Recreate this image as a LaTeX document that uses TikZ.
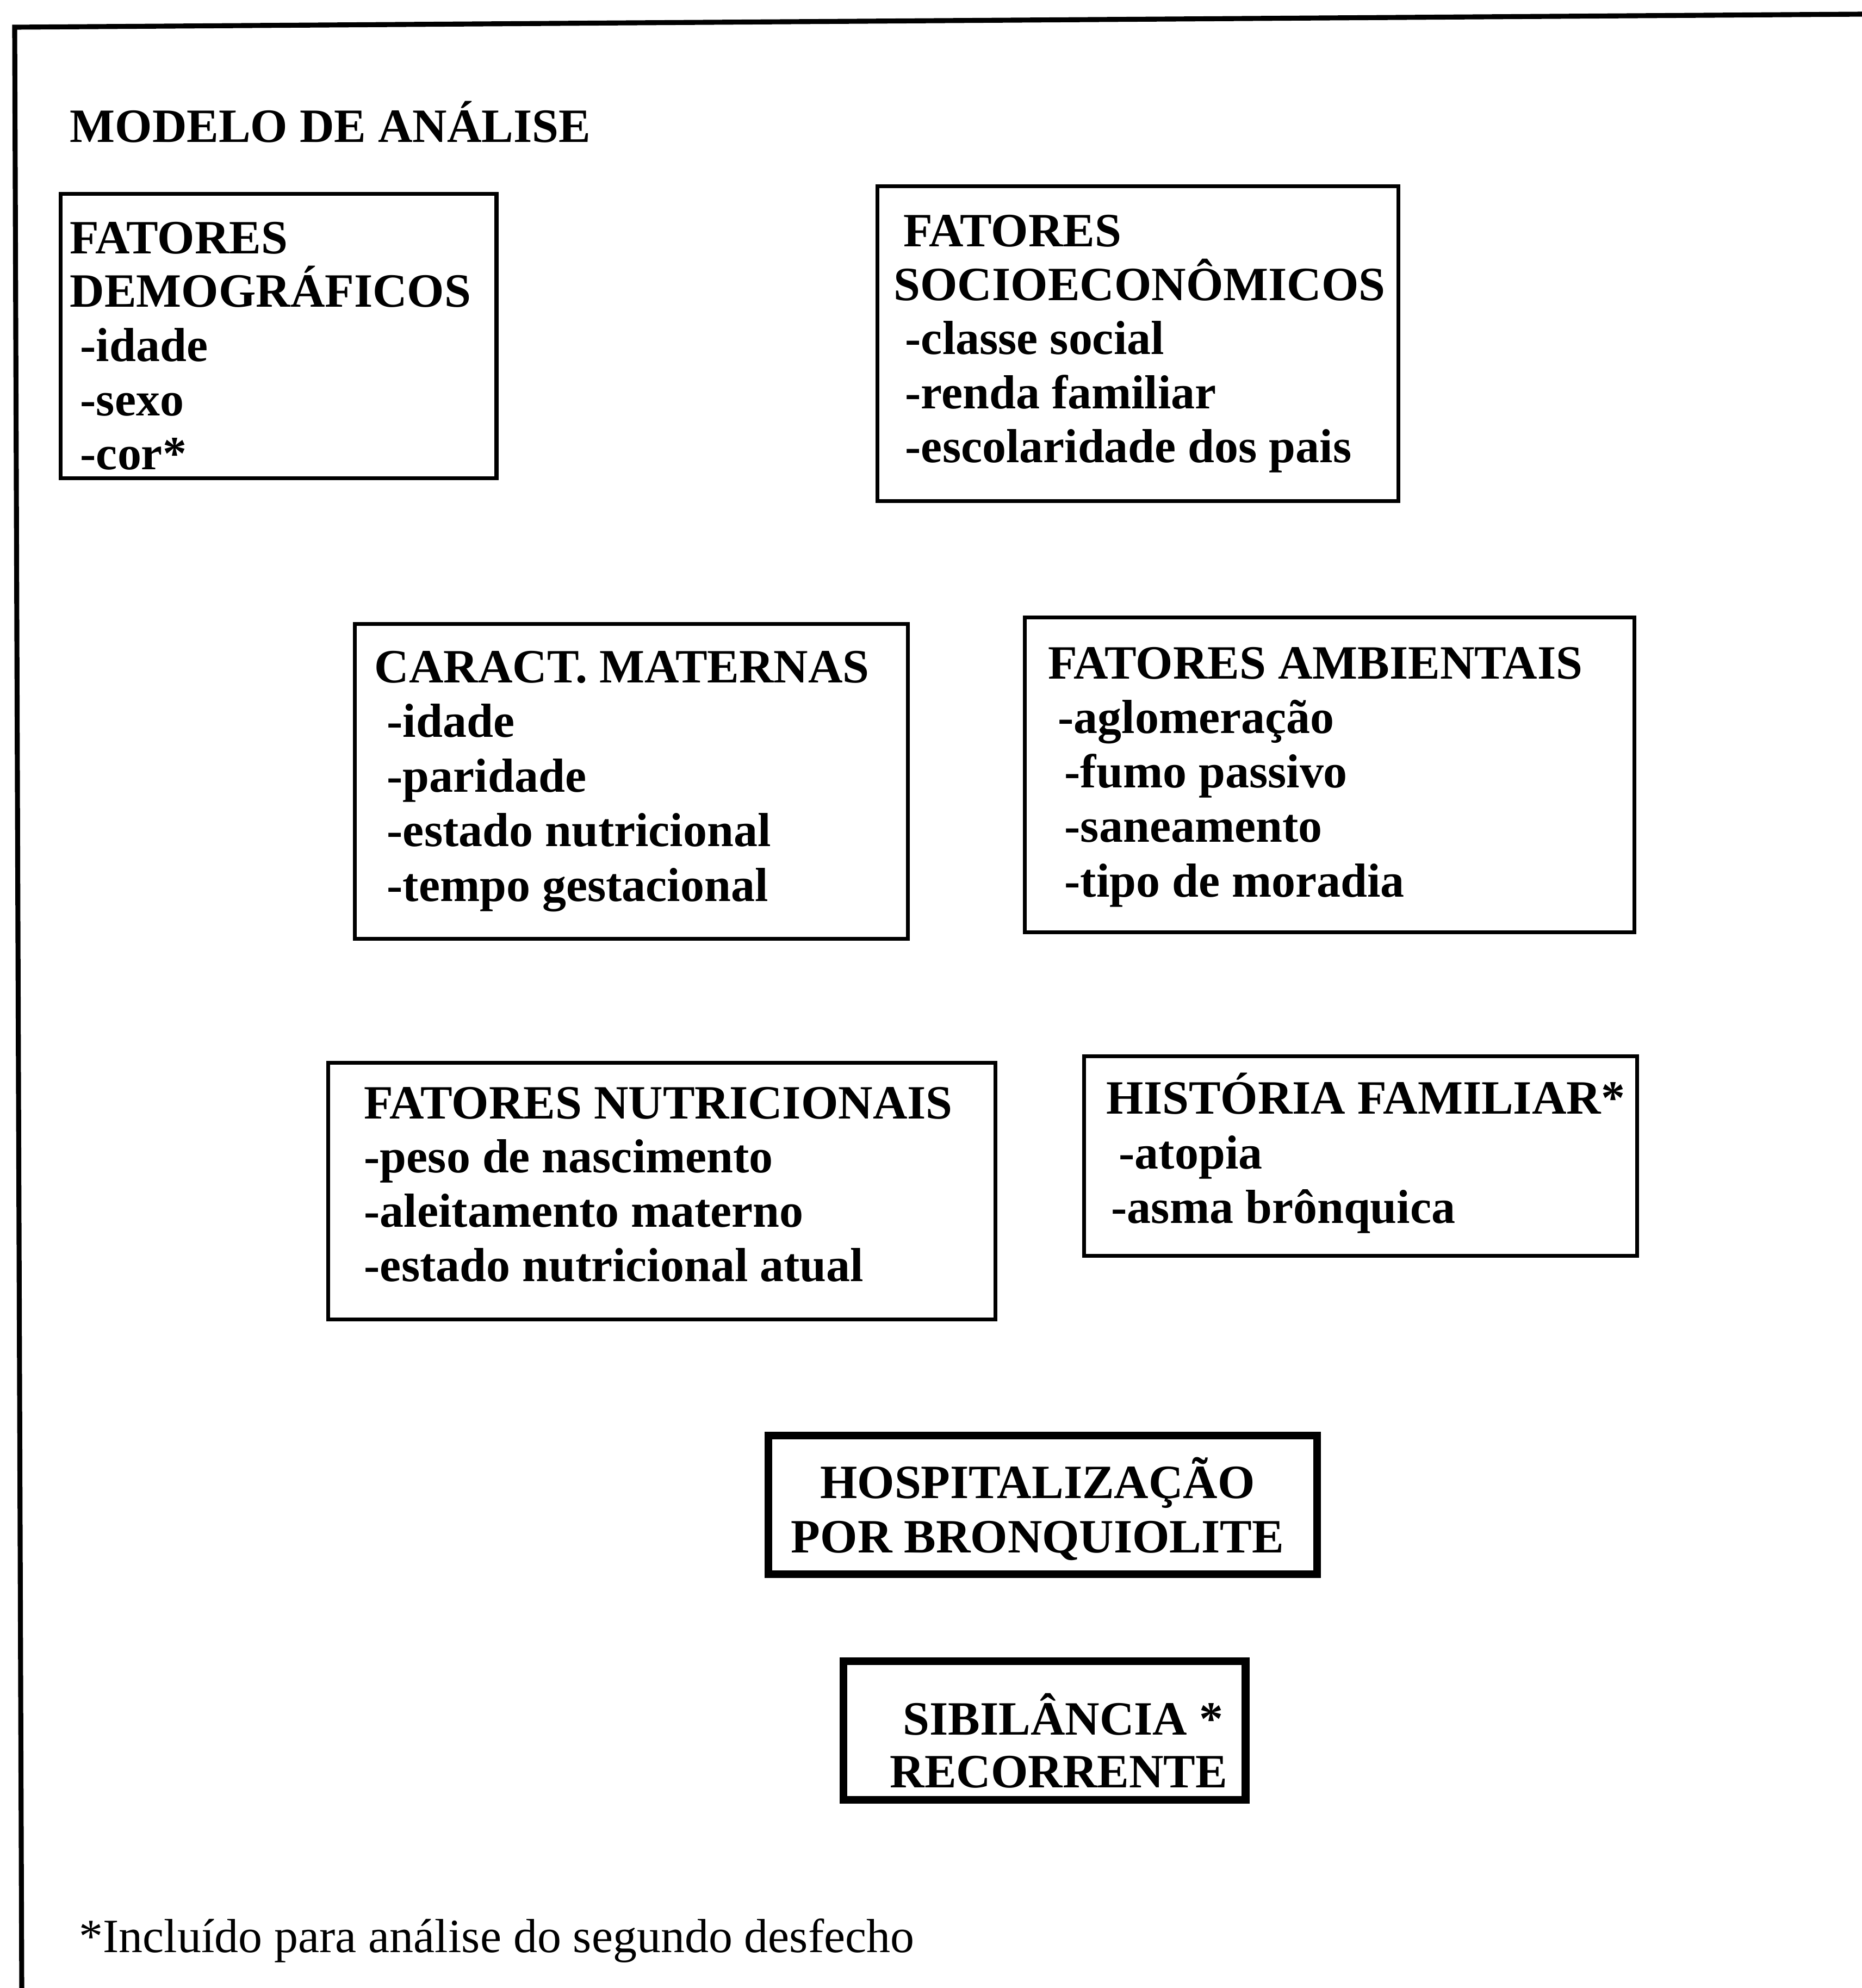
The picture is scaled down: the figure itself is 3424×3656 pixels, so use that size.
\documentclass[tikz,border=0pt]{standalone}
\usepackage{fontspec}
\setmainfont{Liberation Serif}
\usetikzlibrary{positioning}
\tikzset{
  factorbox/.style={draw, line width=2pt, inner sep=0pt, anchor=north west},
  outcomebox/.style={draw, line width=4pt, inner sep=0pt, anchor=north west},
  boxline/.style={anchor=base west, inner sep=0pt, font=\fontsize{25}{28.45}\selectfont\bfseries},
  plainline/.style={anchor=base west, inner sep=0pt, font=\fontsize{25}{28.45}\selectfont},
}
\begin{document}
\begin{tikzpicture}[x=0.01cm, y=-0.01cm]
    \useasboundingbox (0,0) rectangle (3424,3656);
    \draw[line width=2.6pt] (40,3656) -- (27,50) -- (3424,26);

    \node[boxline] (title) at (128,261) {MODELO DE ANÁLISE};

    \node[factorbox, minimum width=8.01cm, minimum height=5.23cm] (demog) at (108,353) {};
    \node[boxline] (demog-h1) at (128,466) {FATORES};
    \node[boxline] (demog-h2) at (128,564) {DEMOGRÁFICOS};
    \foreach \t [count=\i] in {-idade,-sexo,-cor*}
        \node[boxline] (demog-\i) at (147,{565+\i*99.5}) {\t};

    \node[factorbox, minimum width=9.57cm, minimum height=5.79cm] (socio) at (1610,339) {};
    \node[boxline] (socio-h1) at (1661,453) {FATORES};
    \node[boxline] (socio-h2) at (1643,552) {SOCIOECONÔMICOS};
    \foreach \t [count=\i] in {-classe social,-renda familiar,-escolaridade dos pais}
        \node[boxline] (socio-\i) at (1664,{552+\i*99.5}) {\t};

    \node[factorbox, minimum width=10.16cm, minimum height=5.79cm] (matern) at (649,1144) {};
    \node[boxline] (matern-h) at (688,1255) {CARACT. MATERNAS};
    \foreach \t [count=\i] in {-idade,-paridade,-estado nutricional,-tempo gestacional}
        \node[boxline] (matern-\i) at (711,{1255+\i*100.5}) {\t};

    \node[factorbox, minimum width=11.20cm, minimum height=5.79cm] (ambient) at (1881,1132) {};
    \node[boxline] (ambient-h) at (1927,1248) {FATORES AMBIENTAIS};
    \node[boxline] (ambient-1) at (1945,1348) {-aglomeração};
    \foreach \t [count=\i from 2] in {-fumo passivo,-saneamento,-tipo de moradia}
        \node[boxline] (ambient-\i) at (1957,{1248+\i*100.3}) {\t};

    \node[factorbox, minimum width=12.26cm, minimum height=4.72cm] (nutri) at (600,1951) {};
    \node[boxline] (nutri-h) at (669,2057) {FATORES NUTRICIONAIS};
    \foreach \t [count=\i] in {-peso de nascimento,-aleitamento materno,-estado nutricional atual}
        \node[boxline] (nutri-\i) at (669,{2057+\i*99.7}) {\t};

    \node[factorbox, minimum width=10.16cm, minimum height=3.67cm] (famil) at (1990,1939) {};
    \node[boxline] (famil-h) at (2034,2048) {HISTÓRIA FAMILIAR*};
    \node[boxline] (famil-1) at (2057,2149) {-atopia};
    \node[boxline] (famil-2) at (2043,2249) {-asma brônquica};

    \node[outcomebox, minimum width=10.08cm, minimum height=2.55cm] (hosp) at (1406,2633) {};
    \node[boxline, anchor=base] (hosp-1) at (1908,2755) {HOSPITALIZAÇÃO};
    \node[boxline, anchor=base] (hosp-2) at (1908,2855) {POR BRONQUIOLITE};

    \node[outcomebox, minimum width=7.39cm, minimum height=2.55cm] (sibil) at (1544,3048) {};
    \node[boxline] (sibil-1) at (1660,3190) {SIBILÂNCIA *};
    \node[boxline] (sibil-2) at (1636,3287) {RECORRENTE};

    \node[plainline] (nota) at (145,3590) {*Incluído para análise do segundo desfecho};
\end{tikzpicture}
\end{document}
